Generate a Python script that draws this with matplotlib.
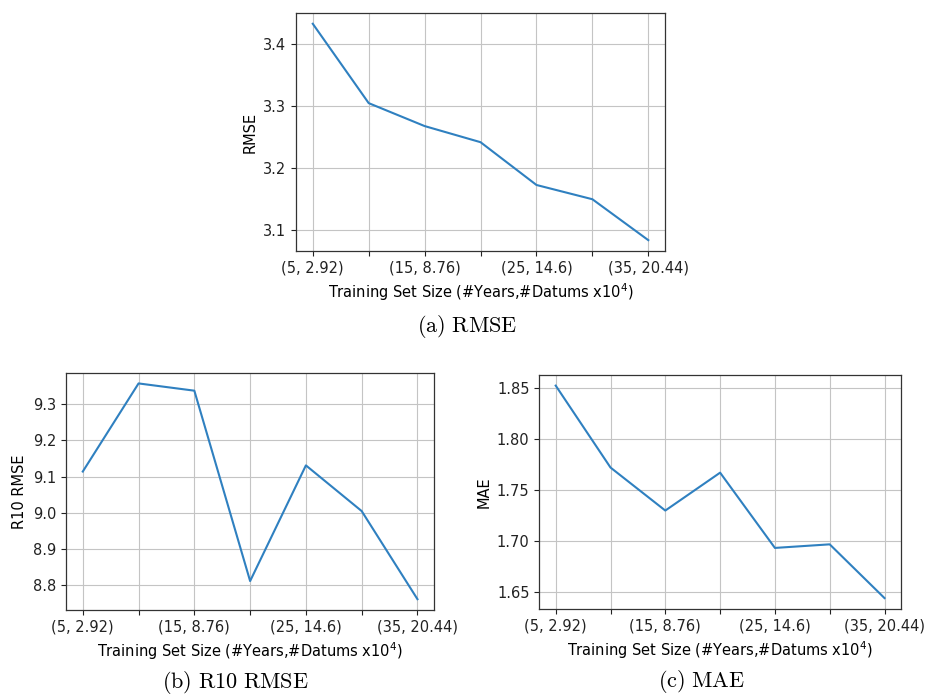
import matplotlib
matplotlib.use("Agg")
import matplotlib.pyplot as plt

# training set sizes (#years, #datums x10^4)
sizes = ["(5, 2.92)", "", "(15, 8.76)", "", "(25, 14.6)", "", "(35, 20.44)"]

rmse = [3.432, 3.304, 3.267, 3.241, 3.172, 3.149, 3.083]
r10_rmse = [9.114, 9.357, 9.337, 8.812, 9.131, 9.005, 8.762]
mae = [1.852, 1.772, 1.730, 1.767, 1.6935, 1.697, 1.6445]

xlabel = "Training Set Size (#Years,#Datums x10$^4$)"
fs = 10.5
line_color = "#2f80c0"

plt.rcParams["mathtext.fontset"] = "dejavusans"

fig = plt.figure(figsize=(9.25, 6.96), dpi=100)

ax_a = fig.add_axes([0.320, 0.6394, 0.399, 0.342])
ax_b = fig.add_axes([0.0714, 0.1236, 0.398, 0.341])
ax_c = fig.add_axes([0.583, 0.1254, 0.391, 0.3358])


def draw(ax, values, ylabel, yticks, fmt):
    x = list(range(len(values)))
    ax.plot(x, values, color=line_color, linewidth=1.5)
    ax.set_xticks(x)
    ax.set_xticklabels(sizes, fontsize=fs)
    ax.set_yticks(yticks)
    ax.set_yticklabels([fmt.format(v) for v in yticks], fontsize=fs)
    ax.set_xlabel(xlabel, fontsize=fs)
    ax.set_ylabel(ylabel, fontsize=fs)
    ax.grid(True, color="#c4c4c4", linewidth=0.8)
    ax.margins(x=0.05, y=0.05)
    for sp in ax.spines.values():
        sp.set_color("#333333")
        sp.set_linewidth(0.9)
    ax.tick_params(colors="#222222")


draw(ax_a, rmse, "RMSE", [3.1, 3.2, 3.3, 3.4], "{:.1f}")
draw(ax_b, r10_rmse, "R10 RMSE", [8.8, 8.9, 9.0, 9.1, 9.2, 9.3], "{:.1f}")
draw(ax_c, mae, "MAE", [1.65, 1.70, 1.75, 1.80, 1.85], "{:.2f}")

cap = dict(fontsize=16, ha="center", va="center", math_fontfamily="cm")
fig.text(466.7 / 925, 1 - 326 / 696, r"$\mathrm{(a)\ RMSE}$", **cap)
fig.text(235 / 925, 1 - 683 / 696, r"$\mathrm{(b)\ R10\ RMSE}$", **cap)
fig.text(701.7 / 925, 1 - 681.7 / 696, r"$\mathrm{(c)\ MAE}$", **cap)

fig.savefig("out.png", dpi=100)
